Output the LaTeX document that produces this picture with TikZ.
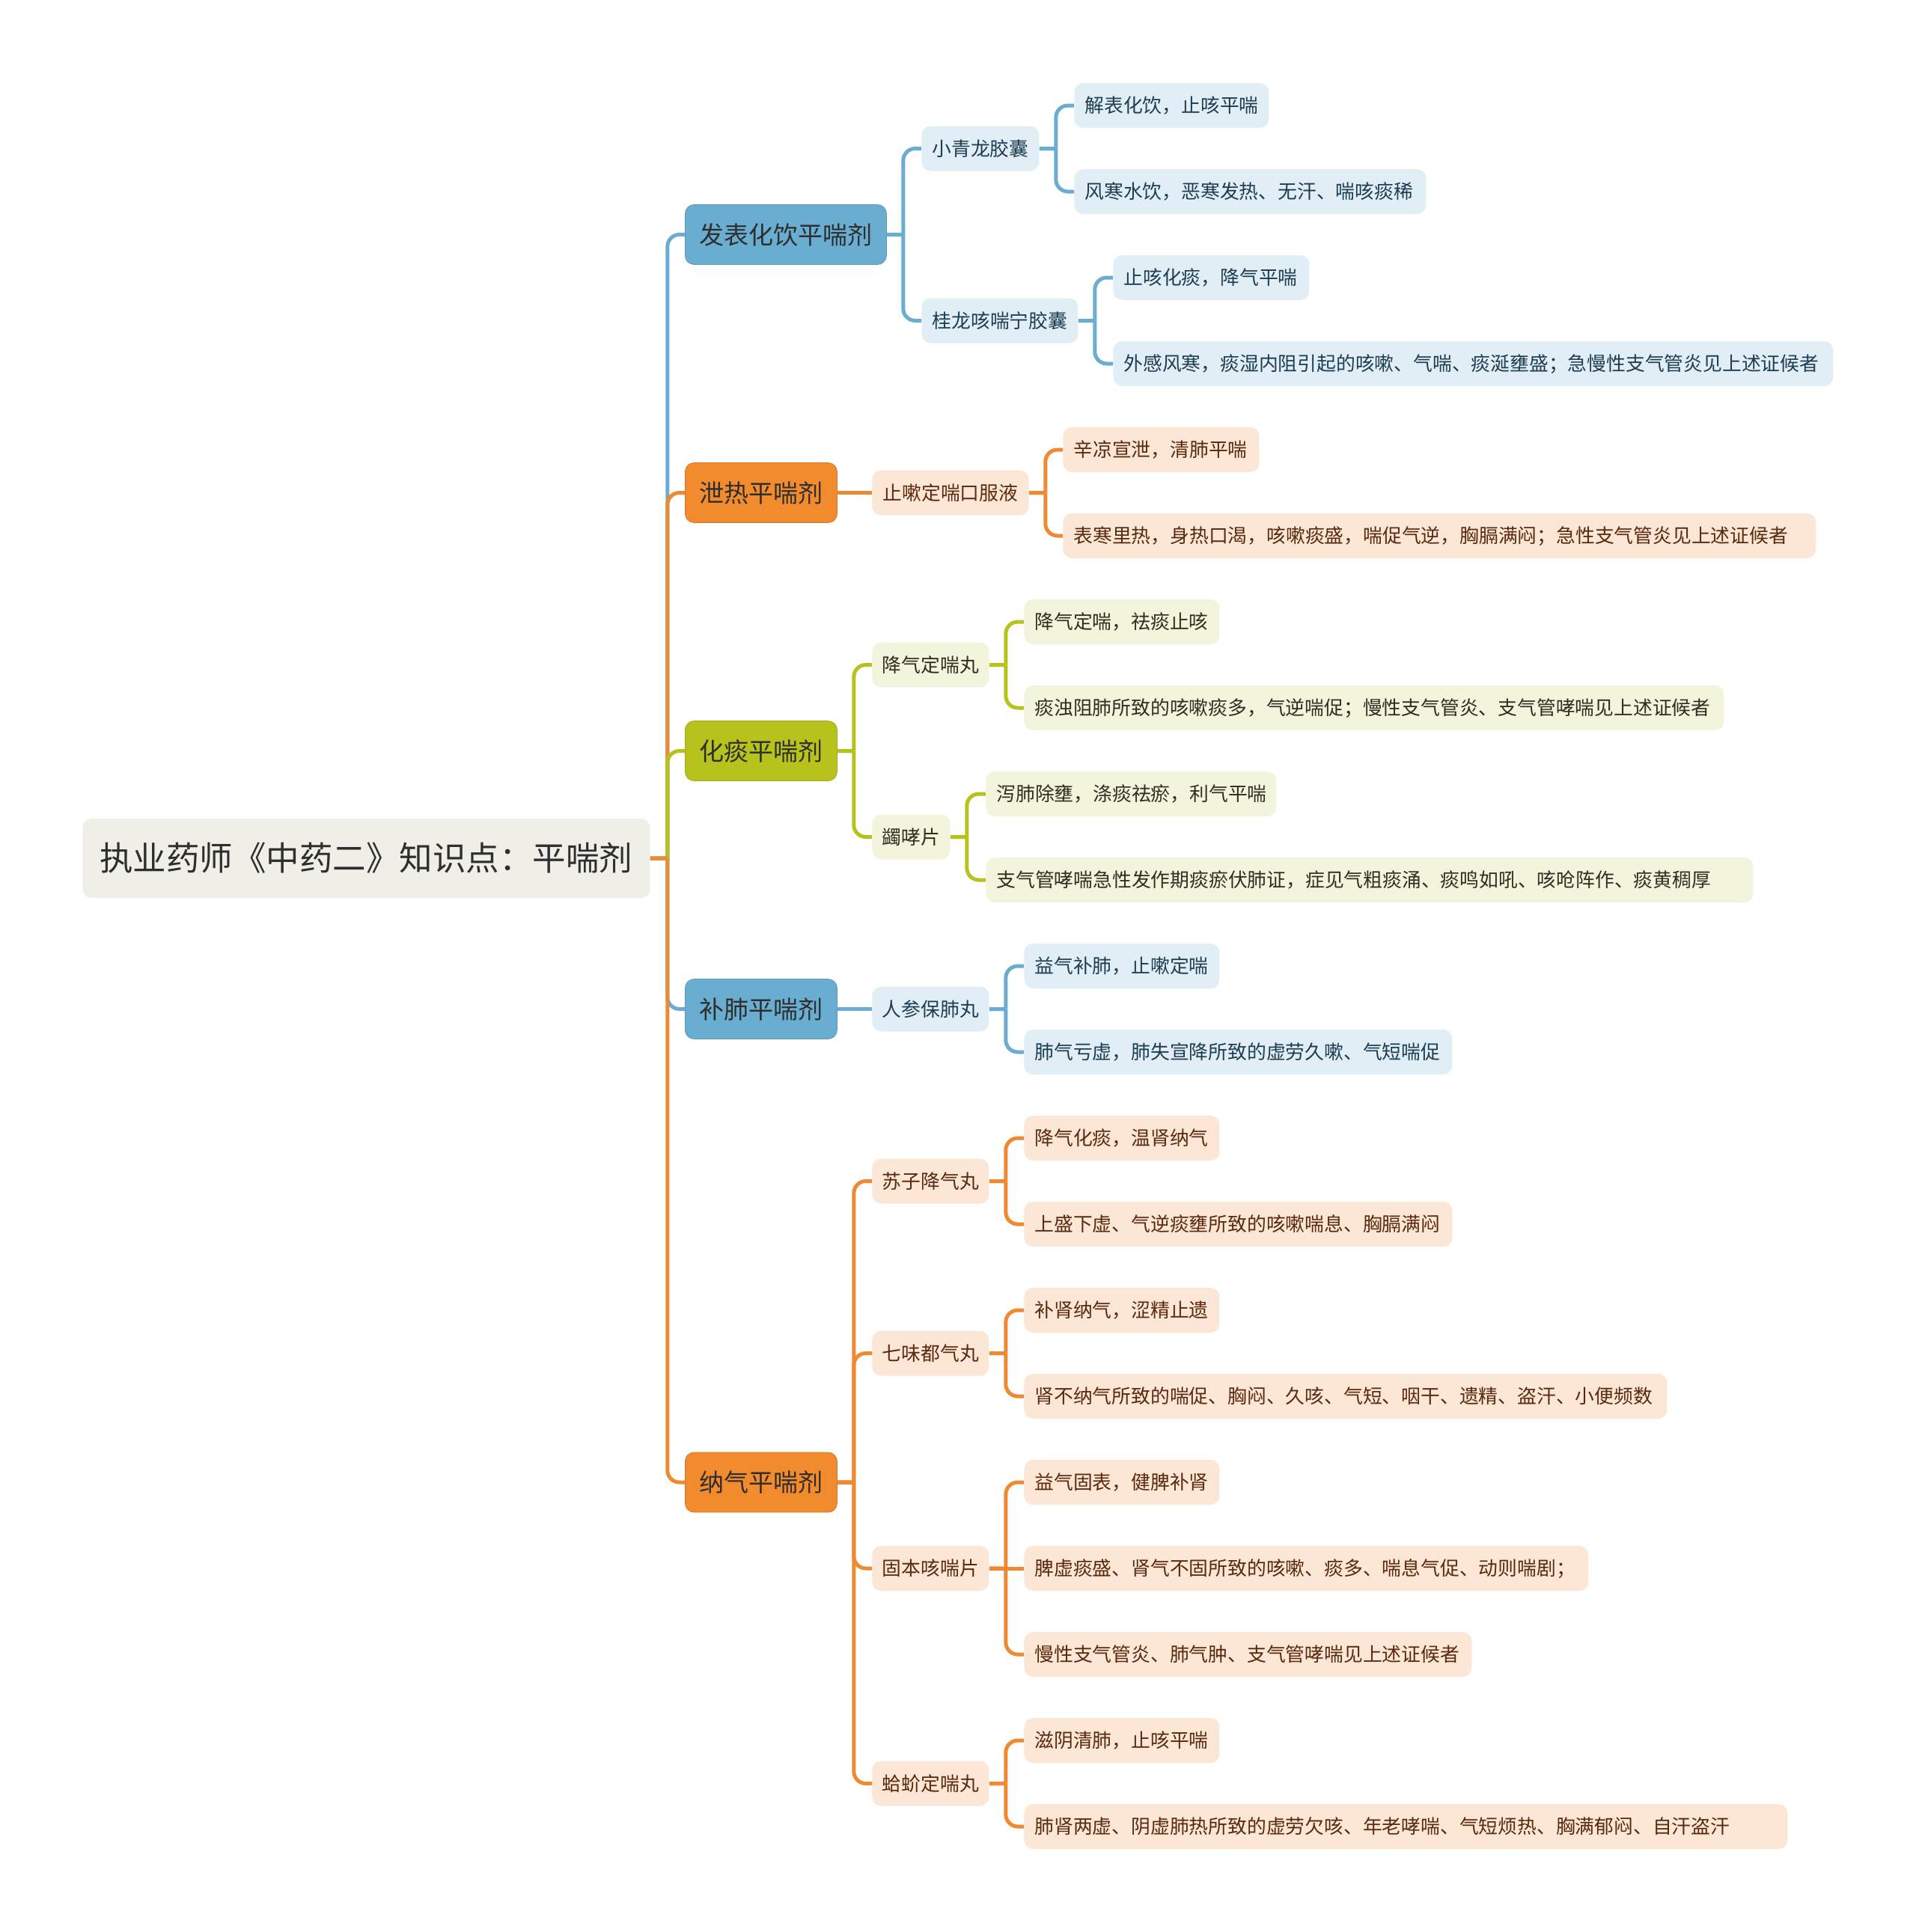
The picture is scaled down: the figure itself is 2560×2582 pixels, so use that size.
\documentclass[tikz,border=0pt]{standalone}
\usepackage{fontspec}
\newfontfamily\cjk{Noto Sans CJK SC}
\definecolor{bdark}{HTML}{69ADD1}
\definecolor{bline}{HTML}{6AADD0}
\definecolor{blight}{HTML}{E2EEF6}
\definecolor{btext}{HTML}{1D3E52}
\definecolor{odark}{HTML}{F28A2E}
\definecolor{oline}{HTML}{EF8A33}
\definecolor{olight}{HTML}{FCE6D6}
\definecolor{otext}{HTML}{5A2A0E}
\definecolor{gdark}{HTML}{B8C21C}
\definecolor{glight}{HTML}{F2F4DC}
\definecolor{gtext}{HTML}{2E2E22}
\definecolor{rootfill}{HTML}{EFEEE7}
\definecolor{l1text}{HTML}{2E2E2E}
\newcommand\leaftext[2]{\makebox[\dimexpr #1pt/2-14pt\relax][l]{#2}}
\pgfdeclarelayer{paper}
\pgfdeclarelayer{bg}
\pgfsetlayers{paper,bg,main}
\tikzset{
  base/.style={anchor=west, rounded corners=6pt, inner ysep=0pt},
  rootnode/.style={base, fill=rootfill, text=l1text, font=\cjk\fontsize{22.25}{26}\selectfont,
    minimum width=379pt, minimum height=53pt, inner xsep=0pt, text height=19.6pt, text depth=2.7pt},
  lone/.style={base, font=\cjk\fontsize{16.5}{20}\selectfont, minimum height=40pt,
    inner xsep=0pt, text height=14.5pt, text depth=2pt, text=l1text},
  loneb/.style={lone, fill=bdark, draw=bdark!88!black, line width=0.4pt},
  loneo/.style={lone, fill=odark, draw=odark!88!black, line width=0.4pt},
  loneg/.style={lone, fill=gdark, draw=gdark!88!black, line width=0.4pt},
  ltwo/.style={base, font=\cjk\fontsize{12.9}{15}\selectfont, minimum height=30pt,
    inner xsep=0pt, text height=11.35pt, text depth=1.55pt},
  ltwob/.style={ltwo, fill=blight, text=btext},
  ltwoo/.style={ltwo, fill=olight, text=otext},
  ltwog/.style={ltwo, fill=glight, text=gtext},
  lfb/.style={ltwob, inner xsep=7pt},
  lfo/.style={ltwoo, inner xsep=7pt},
  lfg/.style={ltwog, inner xsep=7pt},
  conn/.style={line width=2.5pt, rounded corners=8pt},
}
\newcommand\link[4]{\draw[conn,#1] (#2.east) -- ++(#4,0) ++(0,0) |- (#3.west);}
\newcommand\straight[3]{\draw[conn,#1] (#2.east) -- (#3.west);}
\begin{document}
\begin{tikzpicture}[x=0.5pt,y=-0.5pt]
\useasboundingbox (0,0) rectangle (2560,2582);
\begin{pgfonlayer}{paper}
\fill[white] (0,0) rectangle (2560,2582);
\end{pgfonlayer}

% root
\node[rootnode] (root) at (110,1147) {执业药师《中药二》知识点：平喘剂};

% level 1
\node[loneb, minimum width=134.5pt] (a) at (915,313.5) {发表化饮平喘剂};
\node[loneo, minimum width=101.5pt] (b) at (915,658.5) {泄热平喘剂};
\node[loneg, minimum width=101.5pt] (c) at (915,1003.5) {化痰平喘剂};
\node[loneb, minimum width=101.5pt] (d) at (915,1348.5) {补肺平喘剂};
\node[loneo, minimum width=101.5pt] (e) at (915,1981) {纳气平喘剂};

% level 2
\node[ltwob, minimum width=78.5pt] (a1) at (1231,198.5) {小青龙胶囊};
\node[ltwob, minimum width=104.5pt] (a2) at (1231,428.5) {桂龙咳喘宁胶囊};
\node[ltwoo, minimum width=104.5pt] (b1) at (1165,658.5) {止嗽定喘口服液};
\node[ltwog, minimum width=78pt] (c1) at (1165,888.5) {降气定喘丸};
\node[ltwog, minimum width=52pt] (c2) at (1165,1118.5) {蠲哮片};
\node[ltwob, minimum width=78pt] (d1) at (1165,1348.5) {人参保肺丸};
\node[ltwoo, minimum width=78pt] (e1) at (1165,1578.5) {苏子降气丸};
\node[ltwoo, minimum width=78pt] (e2) at (1165,1808.5) {七味都气丸};
\node[ltwoo, minimum width=78pt] (e3) at (1165,2096) {固本咳喘片};
\node[ltwoo, minimum width=78pt] (e4) at (1165,2383.5) {蛤蚧定喘丸};

% leaves
\node[lfb] (a1x) at (1435,141) {\leaftext{260}{解表化饮，止咳平喘}};
\node[lfb] (a1y) at (1435,256) {\leaftext{470}{风寒水饮，恶寒发热、无汗、喘咳痰稀}};
\node[lfb] (a2x) at (1487,371) {\leaftext{262}{止咳化痰，降气平喘}};
\node[lfb] (a2y) at (1487,486) {\leaftext{962}{外感风寒，痰湿内阻引起的咳嗽、气喘、痰涎壅盛；急慢性支气管炎见上述证候者}};
\node[lfo] (b1x) at (1420,601) {\leaftext{262}{辛凉宣泄，清肺平喘}};
\node[lfo] (b1y) at (1420,716) {\leaftext{1006}{表寒里热，身热口渴，咳嗽痰盛，喘促气逆，胸膈满闷；急性支气管炎见上述证候者}};
\node[lfg] (c1x) at (1368,831) {\leaftext{261}{降气定喘，祛痰止咳}};
\node[lfg] (c1y) at (1368,946) {\leaftext{935}{痰浊阻肺所致的咳嗽痰多，气逆喘促；慢性支气管炎、支气管哮喘见上述证候者}};
\node[lfg] (c2x) at (1317,1061) {\leaftext{388}{泻肺除壅，涤痰祛瘀，利气平喘}};
\node[lfg] (c2y) at (1317,1176) {\leaftext{1025}{支气管哮喘急性发作期痰瘀伏肺证，症见气粗痰涌、痰鸣如吼、咳呛阵作、痰黄稠厚}};
\node[lfb] (d1x) at (1368,1291) {\leaftext{261}{益气补肺，止嗽定喘}};
\node[lfb] (d1y) at (1368,1406) {\leaftext{572}{肺气亏虚，肺失宣降所致的虚劳久嗽、气短喘促}};
\node[lfo] (e1x) at (1368,1521) {\leaftext{261}{降气化痰，温肾纳气}};
\node[lfo] (e1y) at (1368,1636) {\leaftext{572}{上盛下虚、气逆痰壅所致的咳嗽喘息、胸膈满闷}};
\node[lfo] (e2x) at (1368,1751) {\leaftext{261}{补肾纳气，涩精止遗}};
\node[lfo] (e2y) at (1368,1866) {\leaftext{859}{肾不纳气所致的喘促、胸闷、久咳、气短、咽干、遗精、盗汗、小便频数}};
\node[lfo] (e3x) at (1368,1981) {\leaftext{261}{益气固表，健脾补肾}};
\node[lfo] (e3y) at (1368,2096) {\leaftext{754}{脾虚痰盛、肾气不固所致的咳嗽、痰多、喘息气促、动则喘剧；}};
\node[lfo] (e3z) at (1368,2211) {\leaftext{598}{慢性支气管炎、肺气肿、支气管哮喘见上述证候者}};
\node[lfo] (e4x) at (1368,2326) {\leaftext{261}{滋阴清肺，止咳平喘}};
\node[lfo] (e4y) at (1368,2441) {\leaftext{1020}{肺肾两虚、阴虚肺热所致的虚劳欠咳、年老哮喘、气短烦热、胸满郁闷、自汗盗汗}};

\begin{pgfonlayer}{bg}
% trunk
\link{bline}{root}{a}{23}
\link{oline}{root}{b}{23}
\link{gdark}{root}{c}{23}
\link{bline}{root}{d}{23}
\link{oline}{root}{e}{23}
% level 1 -> 2
\link{bline}{a}{a1}{22}
\link{bline}{a}{a2}{22}
\straight{oline}{b}{b1}
\link{gdark}{c}{c1}{22}
\link{gdark}{c}{c2}{22}
\straight{bline}{d}{d1}
\link{oline}{e}{e1}{22}
\link{oline}{e}{e2}{22}
\link{oline}{e}{e3}{22}
\link{oline}{e}{e4}{22}
% level 2 -> 3
\link{bline}{a1}{a1x}{22}
\link{bline}{a1}{a1y}{22}
\link{bline}{a2}{a2x}{22}
\link{bline}{a2}{a2y}{22}
\link{oline}{b1}{b1x}{22}
\link{oline}{b1}{b1y}{22}
\link{gdark}{c1}{c1x}{22}
\link{gdark}{c1}{c1y}{22}
\link{gdark}{c2}{c2x}{22}
\link{gdark}{c2}{c2y}{22}
\link{bline}{d1}{d1x}{22}
\link{bline}{d1}{d1y}{22}
\link{oline}{e1}{e1x}{22}
\link{oline}{e1}{e1y}{22}
\link{oline}{e2}{e2x}{22}
\link{oline}{e2}{e2y}{22}
\link{oline}{e3}{e3x}{22}
\straight{oline}{e3}{e3y}
\link{oline}{e3}{e3z}{22}
\link{oline}{e4}{e4x}{22}
\link{oline}{e4}{e4y}{22}
\end{pgfonlayer}
\end{tikzpicture}
\end{document}
